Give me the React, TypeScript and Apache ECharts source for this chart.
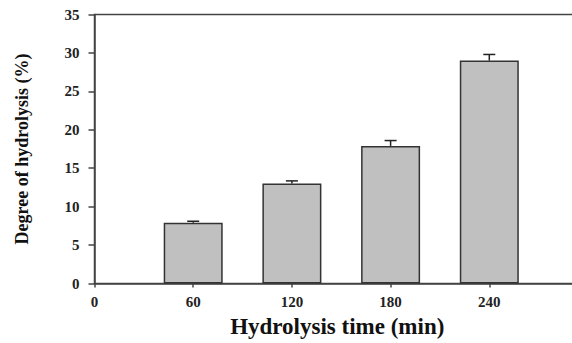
import React, { useEffect, useRef } from "react";
import * as echarts from "echarts";

const times = [60, 120, 180, 240];
const dh = [7.9, 13.0, 17.9, 29.0];
const errs = [0.2, 0.35, 0.7, 0.8];
const xTicks = [0, 60, 120, 180, 240];

const FONT = "'Liberation Serif', 'Times New Roman', serif";

export default function App() {
  const ref = useRef<HTMLDivElement>(null);
  useEffect(() => {
    if (!ref.current) return;
    const chart = echarts.init(ref.current, null, { renderer: "svg" });
    const barData = times.map((t, i) => [t, dh[i]]);
    const errData = times.map((t, i) => [t, dh[i], dh[i] + errs[i]]);
    chart.setOption({
      animation: false,
      backgroundColor: "#fff",
      grid: {
        left: 94.5,
        top: 14.5,
        width: 493.5,
        height: 269,
        containLabel: false,
        outerBoundsMode: "none",
        show: true,
        borderColor: "#444",
        borderWidth: 1.5,
        backgroundColor: "transparent",
      },
      xAxis: {
        type: "value",
        min: 0,
        max: 300,
        interval: 60,
        name: "Hydrolysis time (min)",
        nameLocation: "middle",
        nameGap: 31,
        nameTextStyle: {
          fontFamily: FONT,
          fontWeight: "bold",
          fontSize: 23,
          color: "#111",
          padding: [0, 8, 0, 0],
        },
        axisLine: { show: true, lineStyle: { color: "#444", width: 1.5 } },
        axisTick: { show: true, length: 4, lineStyle: { color: "#444", width: 1.5 } },
        splitLine: { show: false },
        axisLabel: {
          fontFamily: FONT,
          fontWeight: "bold",
          fontSize: 15,
          color: "#222",
          margin: 11,
          formatter: (v: number) => (xTicks.includes(v) ? String(v) : ""),
        },
      },
      yAxis: {
        type: "value",
        min: 0,
        max: 35,
        interval: 5,
        name: "Degree of hydrolysis (%)",
        nameLocation: "middle",
        nameGap: 64,
        nameTextStyle: { fontFamily: FONT, fontWeight: "bold", fontSize: 18, color: "#111" },
        axisLine: { show: true, lineStyle: { color: "#444", width: 1.5 } },
        axisTick: { show: true, length: 6, lineStyle: { color: "#444", width: 1.5 } },
        splitLine: { show: false },
        axisLabel: {
          fontFamily: FONT,
          fontWeight: "bold",
          fontSize: 15,
          color: "#222",
          margin: 15,
        },
      },
      series: [
        {
          type: "bar",
          data: barData,
          barWidth: 59,
          itemStyle: { color: "#c0c0c0", borderColor: "#333", borderWidth: 1.5 },
          z: 2,
        },
        {
          type: "custom",
          data: errData,
          z: 3,
          renderItem: (params: any, api: any) => {
            const x = api.value(0);
            const lo = api.coord([x, api.value(1)]);
            const hi = api.coord([x, api.value(2)]);
            const half = 6;
            const style = { stroke: "#222", lineWidth: 1.5 };
            return {
              type: "group",
              children: [
                { type: "line", shape: { x1: lo[0], y1: lo[1], x2: hi[0], y2: hi[1] }, style },
                { type: "line", shape: { x1: hi[0] - half, y1: hi[1], x2: hi[0] + half, y2: hi[1] }, style },
              ],
            };
          },
        },
      ],
    });
    return () => chart.dispose();
  }, []);
  return <div ref={ref} style={{ width: 572, height: 343, position: "absolute", left: 0, top: 0 }} />;
}
